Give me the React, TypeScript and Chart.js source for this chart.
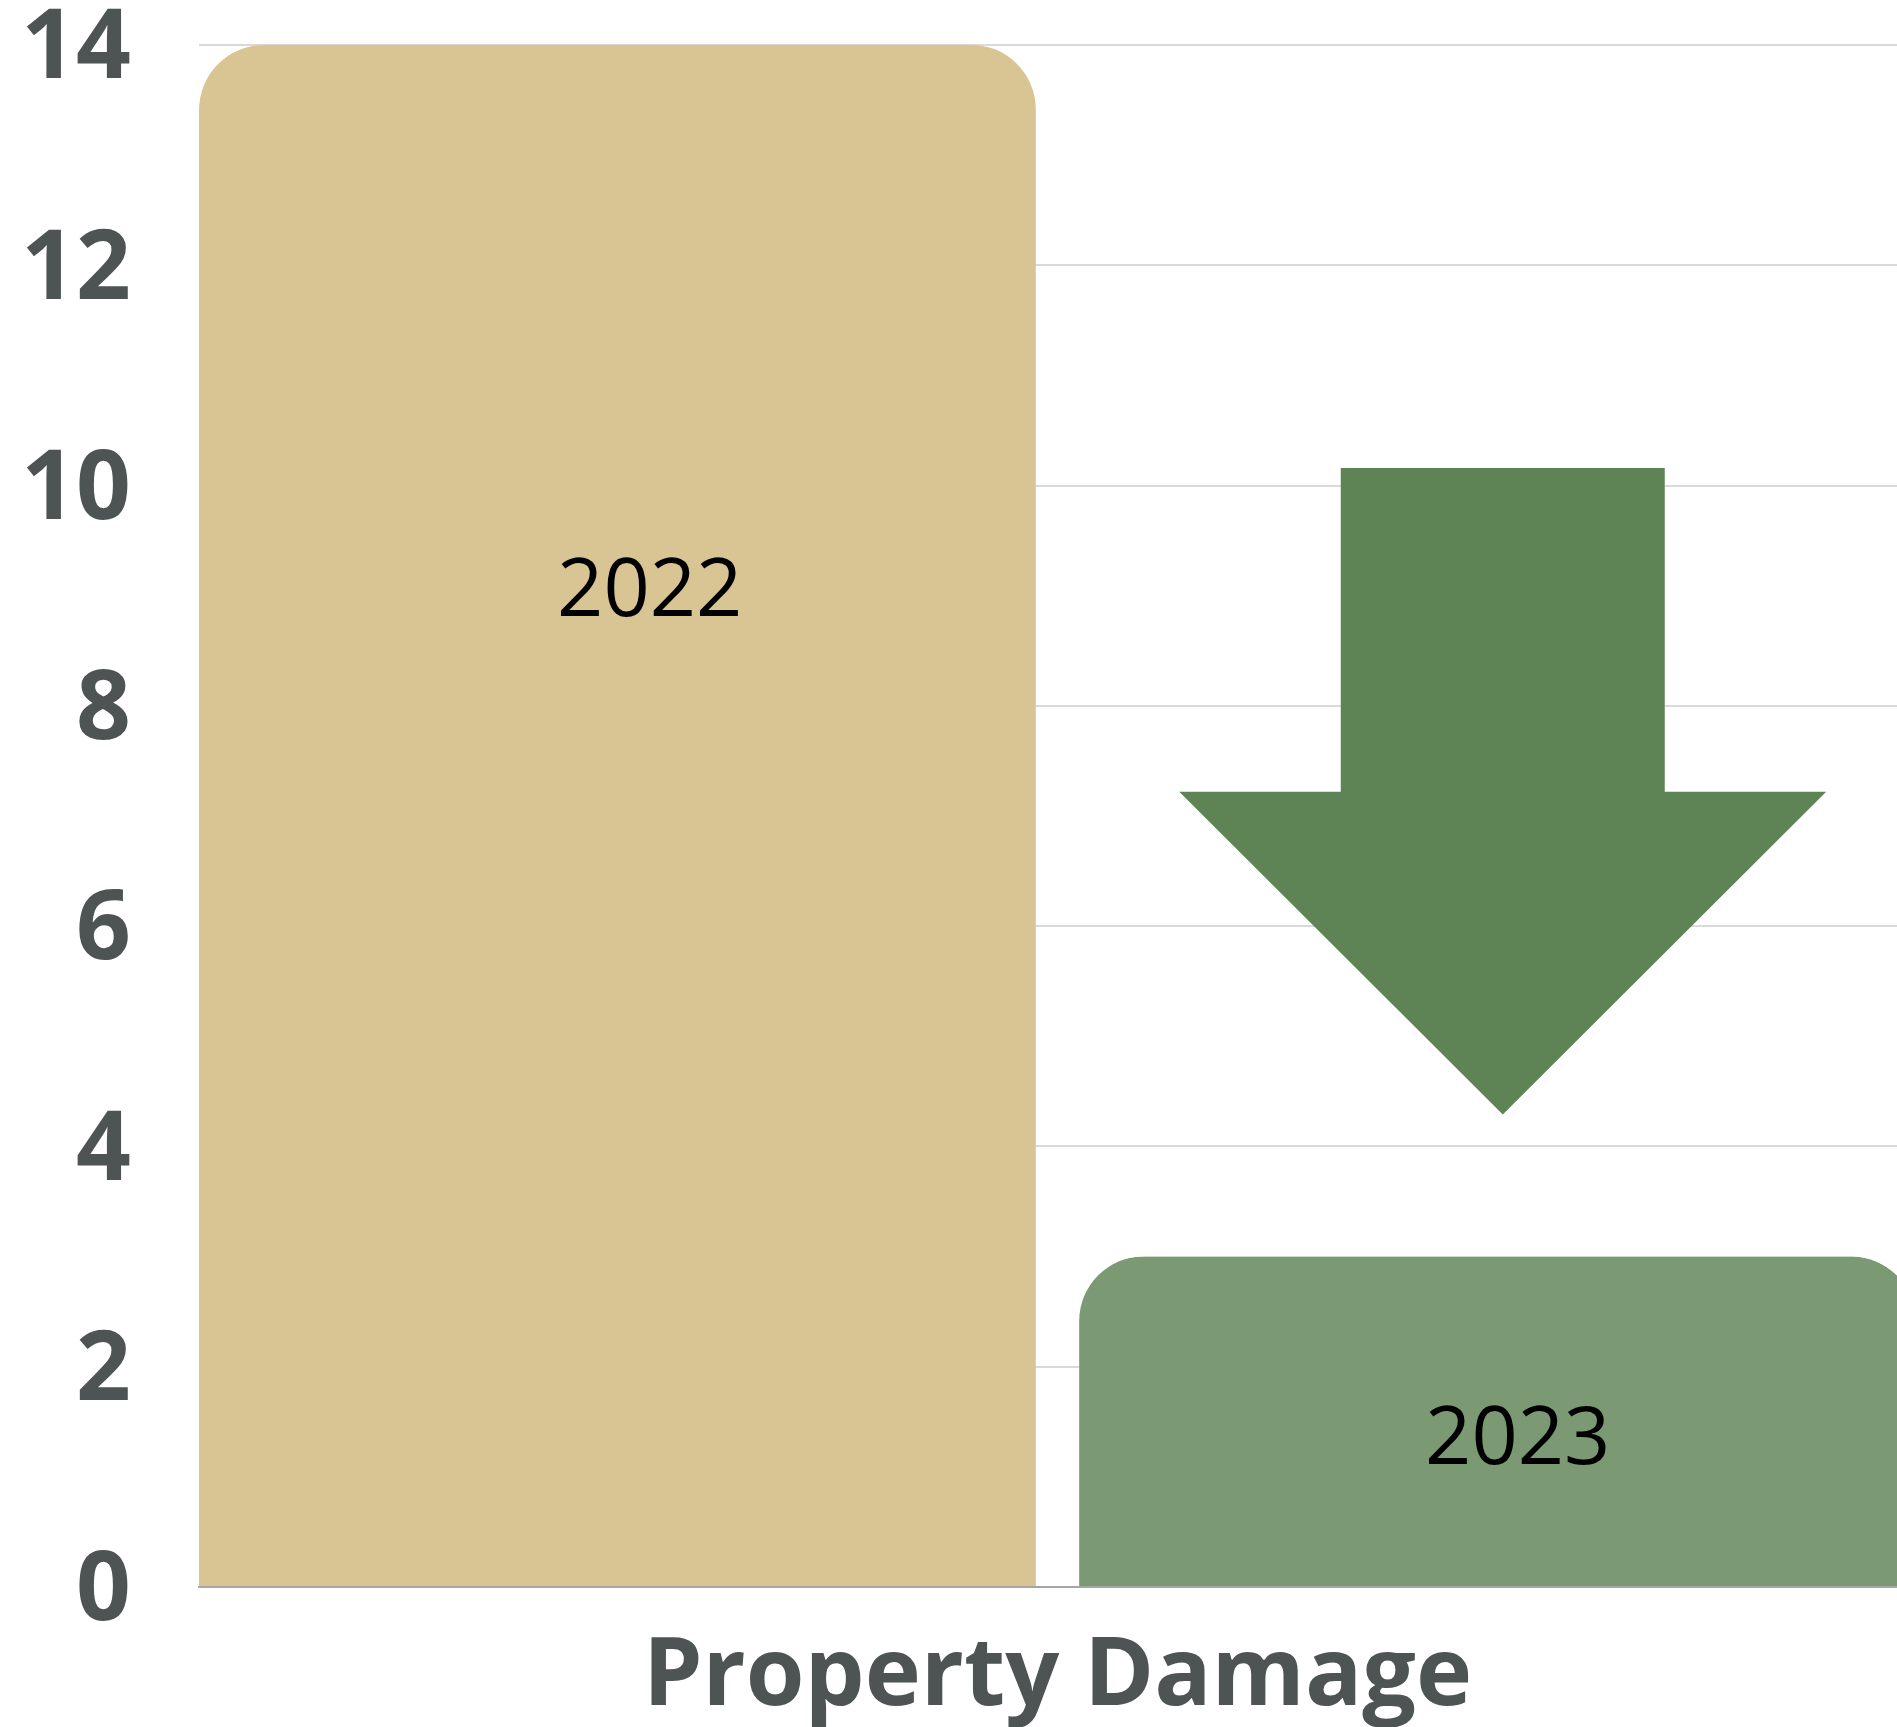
import React, { useEffect, useRef } from "react";
import { Chart, registerables } from "chart.js";

Chart.register(...registerables);

// ---- data ----
const categories = ["Property Damage"];
const seriesLabels = ["2022", "2023"];
const values2022 = [14];
const values2023 = [3];
const yTickValues = [0, 2, 4, 6, 8, 10, 12, 14];

// decorative down-arrow (y extent in axis units)
const arrowTopValue = 10.16;
const arrowNeckValue = 7.22;
const arrowTipValue = 4.29;

// ---- styles ----
const FONT = "'Open Sans', sans-serif";
const C2022 = "#d8c593";
const C2023 = "#7b9a74";
const CARROW = "#5e8455";
const CTICK = "#4d5453";
const CGRID = "#d9d9d9";
const CAXIS = "#a6a6a6";

const CANVAS_W = 1960;
const CANVAS_H = 1800;
const Y_AXIS_W = 199;
const X_AXIS_H = 213;
const HALF_GAP = 22;
const RADIUS = 65;
const Y_LABEL_SHIFT = 6;

const LABEL_STYLE = [
  { dx: 21.5, frac: 0.6446 },
  { dx: 31, frac: 0.439 },
];

const tickShiftPlugin = {
  id: "tickShift",
  beforeDraw(chart: any) {
    const s = chart.scales.y;
    if (!s) return;
    const items = s.getLabelItems();
    items.forEach((it: any) => {
      if (!it.__shifted) {
        it.options.translation[1] += Y_LABEL_SHIFT;
        it.__shifted = true;
      }
    });
  },
};

const labelPlugin = {
  id: "yearLabels",
  afterDatasetsDraw(chart: any) {
    const ctx = chart.ctx;
    chart.data.datasets.forEach((ds: any, i: number) => {
      const meta = chart.getDatasetMeta(i);
      const bar = meta.data[0];
      if (!bar) return;
      const p = bar.getProps(["x", "y", "base"], true);
      const st = LABEL_STYLE[i];
      ctx.save();
      ctx.font = `400 81px ${FONT}`;
      ctx.fillStyle = "#000000";
      ctx.textAlign = "center";
      ctx.textBaseline = "middle";
      ctx.fillText(ds.label, p.x + st.dx, p.base - (p.base - p.y) * st.frac);
      ctx.restore();
    });
  },
};

const arrowPlugin = {
  id: "downArrow",
  afterDatasetsDraw(chart: any) {
    const ctx = chart.ctx;
    const ys = chart.scales.y;
    const bar = chart.getDatasetMeta(1).data[0];
    if (!bar) return;
    const cx = bar.x + 16;
    const shaft = 162;
    const head = 323.5;
    const yTop = ys.getPixelForValue(arrowTopValue);
    const yNeck = ys.getPixelForValue(arrowNeckValue);
    const yTip = ys.getPixelForValue(arrowTipValue);
    ctx.save();
    ctx.beginPath();
    ctx.moveTo(cx - shaft, yTop);
    ctx.lineTo(cx + shaft, yTop);
    ctx.lineTo(cx + shaft, yNeck);
    ctx.lineTo(cx + head, yNeck);
    ctx.lineTo(cx, yTip);
    ctx.lineTo(cx - head, yNeck);
    ctx.lineTo(cx - shaft, yNeck);
    ctx.closePath();
    ctx.fillStyle = CARROW;
    ctx.fill();
    ctx.restore();
  },
};

export default function App() {
  const ref = useRef<HTMLCanvasElement | null>(null);

  useEffect(() => {
    let chart: Chart | null = null;
    let cancelled = false;
    const make = () => {
      if (cancelled || !ref.current) return;
      chart = new Chart(ref.current, {
        type: "bar",
        data: {
          labels: categories,
          datasets: [
            {
              label: seriesLabels[0],
              data: values2022,
              backgroundColor: C2022,
              borderColor: "rgba(0,0,0,0)",
              borderWidth: { top: 0, left: 0, bottom: 0, right: HALF_GAP },
              borderSkipped: "start",
              borderRadius: { topLeft: RADIUS, topRight: RADIUS + HALF_GAP, bottomLeft: 0, bottomRight: 0 },
            },
            {
              label: seriesLabels[1],
              data: values2023,
              backgroundColor: C2023,
              borderColor: "rgba(0,0,0,0)",
              borderWidth: { top: 0, left: HALF_GAP, bottom: 0, right: 0 },
              borderSkipped: "start",
              borderRadius: { topLeft: RADIUS + HALF_GAP, topRight: RADIUS, bottomLeft: 0, bottomRight: 0 },
            },
          ],
        },
        options: {
          responsive: false,
          animation: false,
          devicePixelRatio: 1,
          layout: { padding: { top: 45, right: CANVAS_W - 1916, left: 0, bottom: 0 } },
          plugins: {
            legend: { display: false },
            title: { display: false },
            tooltip: { enabled: false },
          },
          datasets: { bar: { categoryPercentage: 1, barPercentage: 1 } },
          scales: {
            x: {
              grid: { display: false },
              border: { display: true, color: CAXIS, width: 2 },
              ticks: {
                color: CTICK,
                font: { family: FONT, size: 95, weight: "bold" },
                padding: 26,
              },
              afterFit(scale: any) {
                scale.height = X_AXIS_H;
                scale.paddingLeft = 0;
                scale.paddingRight = 0;
              },
            },
            y: {
              min: 0,
              max: 14,
              afterBuildTicks(scale: any) {
                scale.ticks = yTickValues.map((v) => ({ value: v }));
              },
              grid: { color: CGRID, lineWidth: 2, drawTicks: false },
              border: { display: false },
              ticks: {
                color: CTICK,
                font: { family: FONT, size: 96, weight: "bold" },
                padding: 68,
              },
              afterFit(scale: any) {
                scale.width = Y_AXIS_W;
                scale.paddingTop = 0;
                scale.paddingBottom = 0;
              },
            },
          },
        },
        plugins: [tickShiftPlugin, arrowPlugin, labelPlugin],
      });
    };
    const fontsReady = (document as any).fonts
      ? Promise.all([
          (document as any).fonts.load(`bold 96px 'Open Sans'`),
          (document as any).fonts.load(`400 81px 'Open Sans'`),
        ]).catch(() => null)
      : Promise.resolve(null);
    fontsReady.then(make);
    return () => {
      cancelled = true;
      if (chart) chart.destroy();
    };
  }, []);

  return (
    <div
      style={{
        position: "fixed",
        left: 0,
        top: 0,
        width: 1897,
        height: 1727,
        overflow: "hidden",
        background: "#ffffff",
      }}
    >
      <canvas
        ref={ref}
        width={CANVAS_W}
        height={CANVAS_H}
        style={{ display: "block", width: CANVAS_W, height: CANVAS_H }}
      />
    </div>
  );
}
